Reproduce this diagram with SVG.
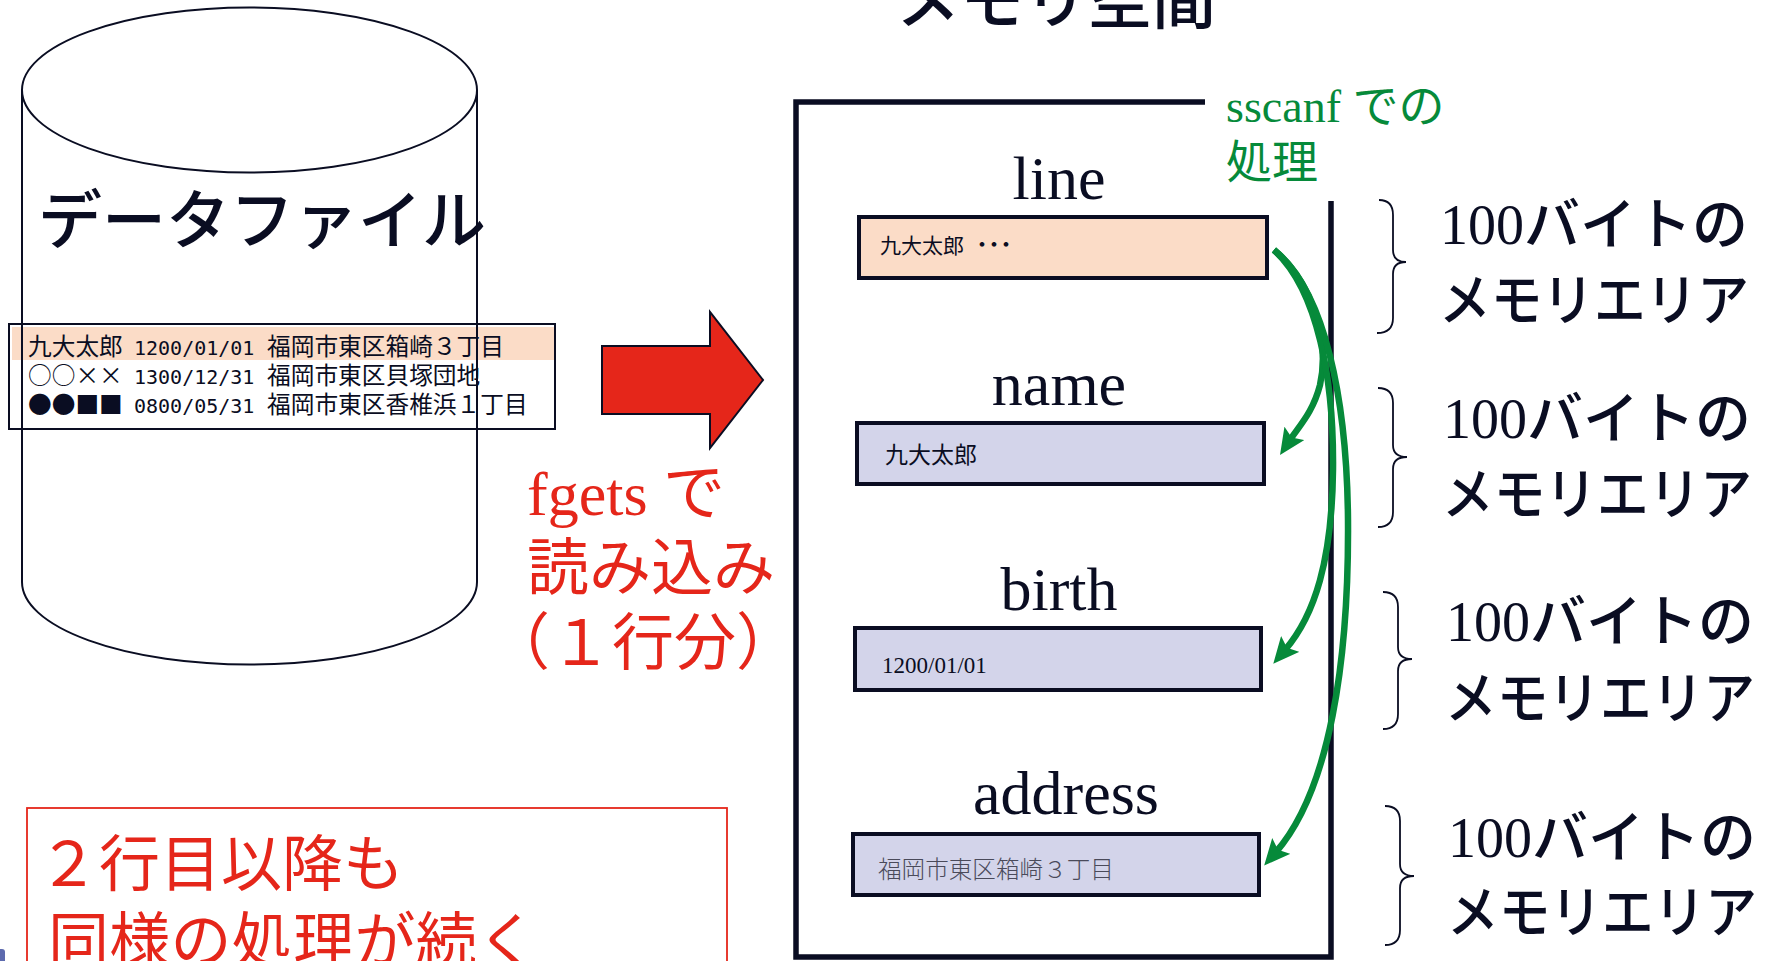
<svg xmlns="http://www.w3.org/2000/svg" width="1772" height="961" viewBox="0 0 1772 961">
<defs>
<style>
.dk{fill:#0a0d22}
.jp{font-family:"Noto Sans CJK JP","Noto Sans",sans-serif}
.sr{font-family:"Liberation Serif","Noto Sans CJK JP",serif}
.mono{font-family:"DejaVu Sans Mono","Liberation Mono",monospace}
.lbl{font-family:"Liberation Serif",serif;font-size:62px;fill:#0a0d22;text-anchor:middle}
.box{stroke:#0a0d22;stroke-width:4}
.brace{fill:none;stroke:#0a0d22;stroke-width:1.8}
.area{font-size:56px;fill:#0a0d22;font-weight:500}
.green{fill:none;stroke:#068a3a;stroke-width:6.5}
</style>
<marker id="gh" viewBox="0 0 26 24" markerWidth="26" markerHeight="24" refX="8" refY="12" orient="auto" markerUnits="userSpaceOnUse">
<path d="M0,0 L26,12 L0,24 L5,12 z" fill="#068a3a"/>
</marker>
</defs>
<rect width="1772" height="961" fill="#ffffff"/>

<g id="datafile">
<rect x="9" y="324" width="546" height="105" fill="none" stroke="#0a0d22" stroke-width="2"/>
<rect x="12" y="327" width="542" height="33" fill="#fbdcc7"/>
<path d="M22,90 L22,582 A227.5,82.5 0 0 0 477,582 L477,90" fill="none" stroke="#0a0d22" stroke-width="2"/>
<ellipse cx="249.5" cy="90" rx="227.5" ry="82.5" fill="none" stroke="#0a0d22" stroke-width="2"/>
<text x="38" y="243" class="jp dk" font-size="64" font-weight="500">データファイル</text>
<g font-size="23.7" class="dk">
<text x="28" y="355" class="jp">九大太郎</text>
<text x="134" y="355" class="mono" font-size="20">1200/01/01</text>
<text x="267" y="355" class="jp">福岡市東区箱崎３丁目</text>
<text x="28" y="384" class="jp">○○××</text>
<text x="134" y="384" class="mono" font-size="20">1300/12/31</text>
<text x="267" y="384" class="jp">福岡市東区貝塚団地</text>
<text x="28" y="413" class="jp">●●■■</text>
<text x="134" y="413" class="mono" font-size="20">0800/05/31</text>
<text x="267" y="413" class="jp">福岡市東区香椎浜１丁目</text>
</g>
</g>

<g id="fgets-arrow">
<polygon points="602,346 710,346 710,312 763,380 710,448 710,414 602,414" fill="#e5261a" stroke="#0a0d22" stroke-width="2"/>
<g fill="#e5261a" font-size="62">
<text x="527" y="515" class="sr">fgets で</text>
<text x="527" y="590" class="jp">読み込み</text>
<text x="488" y="665" class="jp">（１行分）</text>
</g>
</g>

<g id="memory">
<text x="896" y="23" class="jp dk" font-size="64" font-weight="500">メモリ空間</text>
<path d="M1205,102 L796,102 L796,957 L1331,957 L1331,201" fill="none" stroke="#0a0d22" stroke-width="5.5"/>
<g fill="#068a3a" font-size="46">
<text x="1226" y="122" class="sr">sscanf での</text>
<text x="1226" y="178" class="jp">処理</text>
</g>
</g>

<g id="line">
<text x="1059" y="199" class="lbl">line</text>
<rect x="859" y="217" width="408" height="61" fill="#fbdcc7" class="box"/>
<text x="880" y="253" class="jp dk" font-size="21">九大太郎<tspan x="976" font-size="24" font-weight="bold">･･･</tspan></text>
</g>

<g id="name">
<text x="1059" y="405" class="lbl">name</text>
<rect x="857" y="423" width="407" height="61" fill="#d3d4ea" class="box"/>
<text x="885" y="463" class="jp dk" font-size="23">九大太郎</text>
</g>

<g id="birth">
<text x="1059" y="610" class="lbl">birth</text>
<rect x="855" y="628" width="406" height="62" fill="#d3d4ea" class="box"/>
<text x="882" y="673" class="sr dk" font-size="23">1200/01/01</text>
</g>

<g id="address">
<text x="1066" y="814" class="lbl">address</text>
<rect x="853" y="834" width="406" height="61" fill="#d3d4ea" class="box"/>
<text x="878" y="878" class="jp" font-size="23.6" fill="#4a4a5a" font-weight="300">福岡市東区箱崎３丁目</text>
</g>

<g id="connectors">
<path class="green" marker-end="url(#gh)" d="M1274,250 C1312,282 1330,340 1320,385 C1313,412 1300,425 1290,440"/>
<path class="green" marker-end="url(#gh)" d="M1274,250 C1318,290 1334,380 1333,470 C1332,560 1315,615 1285,650"/>
<path class="green" marker-end="url(#gh)" d="M1274,250 C1325,290 1347,400 1348,520 C1349,660 1330,790 1276,852"/>
</g>

<g id="area1">
<path class="brace" d="M1379,200 Q1393,200 1393,215 L1393,250 Q1393,262 1406,262 Q1393,262 1393,274 L1393,318 Q1393,333 1377,333"/>
<text x="1440" y="244" class="sr area">100バイトの</text>
<text x="1439" y="320" class="jp area" textLength="310" lengthAdjust="spacingAndGlyphs">メモリエリア</text>
</g>
<g id="area2">
<path class="brace" d="M1378,388 Q1393,388 1393,403 L1393,445 Q1393,457 1407,457 Q1393,457 1393,469 L1393,512 Q1393,527 1378,527"/>
<text x="1443" y="438" class="sr area">100バイトの</text>
<text x="1442" y="514" class="jp area" textLength="310" lengthAdjust="spacingAndGlyphs">メモリエリア</text>
</g>
<g id="area3">
<path class="brace" d="M1383,592 Q1398,592 1398,607 L1398,647 Q1398,659 1412,659 Q1398,659 1398,671 L1398,714 Q1398,729 1383,729"/>
<text x="1446" y="641" class="sr area">100バイトの</text>
<text x="1445" y="718" class="jp area" textLength="310" lengthAdjust="spacingAndGlyphs">メモリエリア</text>
</g>
<g id="area4">
<path class="brace" d="M1385,806 Q1400,806 1400,821 L1400,864 Q1400,876 1414,876 Q1400,876 1400,888 L1400,930 Q1400,945 1385,945"/>
<text x="1448" y="857" class="sr area">100バイトの</text>
<text x="1447" y="932" class="jp area" textLength="310" lengthAdjust="spacingAndGlyphs">メモリエリア</text>
</g>

<g id="note">
<rect x="27" y="808" width="700" height="170" fill="none" stroke="#e5261a" stroke-width="1.8"/>
<g fill="#e5261a" font-size="61" class="jp">
<text x="38" y="886">２行目以降も</text>
<text x="48" y="963" textLength="490">同様の処理が続く</text>
</g>
</g>
<rect x="-4" y="949" width="9" height="16" rx="3" fill="#34459a" opacity="0.8"/>
</svg>
